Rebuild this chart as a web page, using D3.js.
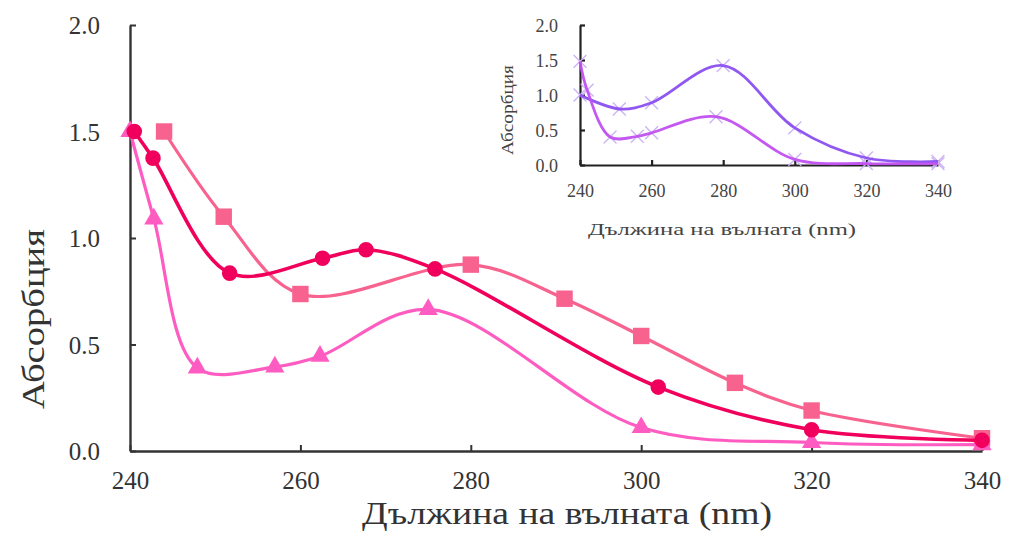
<!DOCTYPE html>
<html>
<head>
<meta charset="utf-8">
<script src="https://cdn.jsdelivr.net/npm/d3@7"></script>
<style>
  body { margin: 0; background: #fff; }
  svg { font-family: "Liberation Serif", "DejaVu Serif", serif; }
</style>
</head>
<body>
<svg id="chart" width="1011" height="533"></svg>
<script>
// --- main chart data ---
const circleX = [240.5, 242.7, 251.7, 262.6, 267.7, 275.8, 302, 320, 340];
const circleY = [1.50, 1.375, 0.835, 0.905, 0.945, 0.855, 0.30, 0.10, 0.05];

const squareX = [244, 251, 260, 280, 291, 300, 311, 320, 340];
const squareY = [1.50, 1.10, 0.737, 0.875, 0.715, 0.54, 0.32, 0.19, 0.06];

const triX = [240, 242.8, 247.9, 257, 262.3, 275, 300, 320, 340];
const triY = [1.50, 1.09, 0.39, 0.395, 0.445, 0.665, 0.11, 0.04, 0.03];

// --- inset data ---
const insetPurpleX = [240, 251, 260, 280, 300, 320, 340];
const insetPurpleY = [1.0, 0.80, 0.89, 1.42, 0.53, 0.10, 0.05];

const insetMagentaX = [240, 242, 248.4, 256, 260, 278, 300, 320, 340];
const insetMagentaY = [1.48, 1.07, 0.40, 0.41, 0.46, 0.69, 0.08, 0.02, 0.02];

const xTicks = [240, 260, 280, 300, 320, 340];
const yTicks = [0, 0.5, 1.0, 1.5, 2.0];

const svg = d3.select("#chart");
const zip = (xs, ys) => xs.map((x, i) => ({x: x, y: ys[i]}));

// ========== MAIN ==========
const x = d3.scaleLinear().domain([240, 340]).range([130, 982]);
const y = d3.scaleLinear().domain([0, 2]).range([451, 25]);

const axisCol = "#333";
const gx = svg.append("g").attr("transform", `translate(0,${y(0)})`)
    .call(d3.axisBottom(x).tickValues(xTicks).tickSizeInner(-6).tickSizeOuter(0).tickPadding(20));
const gy = svg.append("g").attr("transform", `translate(${x(240)},0)`)
    .call(d3.axisLeft(y).tickValues(yTicks).tickFormat(d3.format(".1f")).tickSizeInner(-6).tickSizeOuter(0).tickPadding(30));
[gx, gy].forEach(g => {
    g.select(".domain").attr("stroke", axisCol).attr("stroke-width", 2.4);
    g.selectAll(".tick line").attr("stroke", axisCol).attr("stroke-width", 2);
    g.selectAll(".tick text").attr("font-size", 25).attr("fill", "#333")
        .attr("font-family", "Liberation Serif, serif");
});
gx.selectAll(".tick text").attr("dy", "0.71em");
gy.selectAll(".tick text").attr("dy", "0.35em");

svg.append("text").attr("x", 567).attr("y", 524).attr("text-anchor", "middle")
    .attr("font-size", 31).attr("fill", "#333")
    .attr("textLength", 410).attr("lengthAdjust", "spacingAndGlyphs")
    .text("Дължина на вълната (nm)");
svg.append("text").attr("transform", "translate(44,319) rotate(-90)").attr("text-anchor", "middle")
    .attr("font-size", 31).attr("fill", "#333")
    .attr("textLength", 180).attr("lengthAdjust", "spacingAndGlyphs")
    .text("Абсорбция");

const line = d3.line().x(d => x(d.x)).y(d => y(d.y)).curve(d3.curveCatmullRom.alpha(0.5));

const series = [
    {data: zip(squareX, squareY), color: "#f8628f", shape: d3.symbolSquare, size: 270, w: 3.2},
    {data: zip(triX, triY), color: "#ff5cc2", shape: d3.symbolTriangle, size: 160, w: 3.2},
    {data: zip(circleX, circleY), color: "#f0005c", shape: d3.symbolCircle, size: 190, w: 3.6}
];
series.forEach(s => {
    svg.append("path").datum(s.data).attr("d", line)
        .attr("fill", "none").attr("stroke", s.color).attr("stroke-width", s.w);
    svg.append("g").selectAll("path").data(s.data).join("path")
        .attr("transform", d => `translate(${x(d.x)},${y(d.y)})`)
        .attr("d", d3.symbol().type(s.shape).size(s.size))
        .attr("fill", s.color);
});

// ========== INSET ==========
const ix = d3.scaleLinear().domain([240, 340]).range([580, 938]);
const iy = d3.scaleLinear().domain([0, 2]).range([165, 25]);

const igx = svg.append("g").attr("transform", `translate(0,${iy(0)})`)
    .call(d3.axisBottom(ix).tickValues(xTicks).tickSizeInner(-5).tickSizeOuter(0).tickPadding(19));
const igy = svg.append("g").attr("transform", `translate(${ix(240)},0)`)
    .call(d3.axisLeft(iy).tickValues(yTicks).tickFormat(d3.format(".1f")).tickSizeInner(-5).tickSizeOuter(0).tickPadding(22));
[igx, igy].forEach(g => {
    g.select(".domain").attr("stroke", "#222").attr("stroke-width", 2.2);
    g.selectAll(".tick line").attr("stroke", "#222").attr("stroke-width", 2.2);
    g.selectAll(".tick text").attr("font-size", 18).attr("fill", "#444")
        .attr("font-family", "Liberation Serif, serif");
});
igx.selectAll(".tick text").attr("dy", "0.71em");
igy.selectAll(".tick text").attr("dy", "0.35em");

svg.append("text").attr("x", 722).attr("y", 235).attr("text-anchor", "middle")
    .attr("font-size", 17).attr("fill", "#444")
    .attr("textLength", 268).attr("lengthAdjust", "spacingAndGlyphs")
    .text("Дължина на вълната (nm)");
svg.append("text").attr("transform", "translate(513,110) rotate(-90)").attr("text-anchor", "middle")
    .attr("font-size", 16).attr("fill", "#444")
    .attr("textLength", 90).attr("lengthAdjust", "spacingAndGlyphs")
    .text("Абсорбция");

const iline = d3.line().x(d => ix(d.x)).y(d => iy(d.y)).curve(d3.curveCatmullRom.alpha(0.5));
const insetSeries = [
    {data: zip(insetPurpleX, insetPurpleY), color: "#8a4ff0"},
    {data: zip(insetMagentaX, insetMagentaY), color: "#c150f0"}
];
const xMark = d3.symbol().type(d3.symbolTimes || d3.symbolCross).size(110);
insetSeries.forEach(s => {
    svg.append("g").selectAll("path").data(s.data).join("path")
        .attr("transform", d => `translate(${ix(d.x)},${iy(d.y)})`)
        .attr("d", xMark)
        .attr("fill", "none").attr("stroke", "#cdb4f5").attr("stroke-width", 1.4);
});
insetSeries.forEach(s => {
    svg.append("path").datum(s.data).attr("d", iline)
        .attr("fill", "none").attr("stroke", s.color).attr("stroke-width", 2.8).attr("opacity", 0.95);
});
</script>
</body>
</html>
